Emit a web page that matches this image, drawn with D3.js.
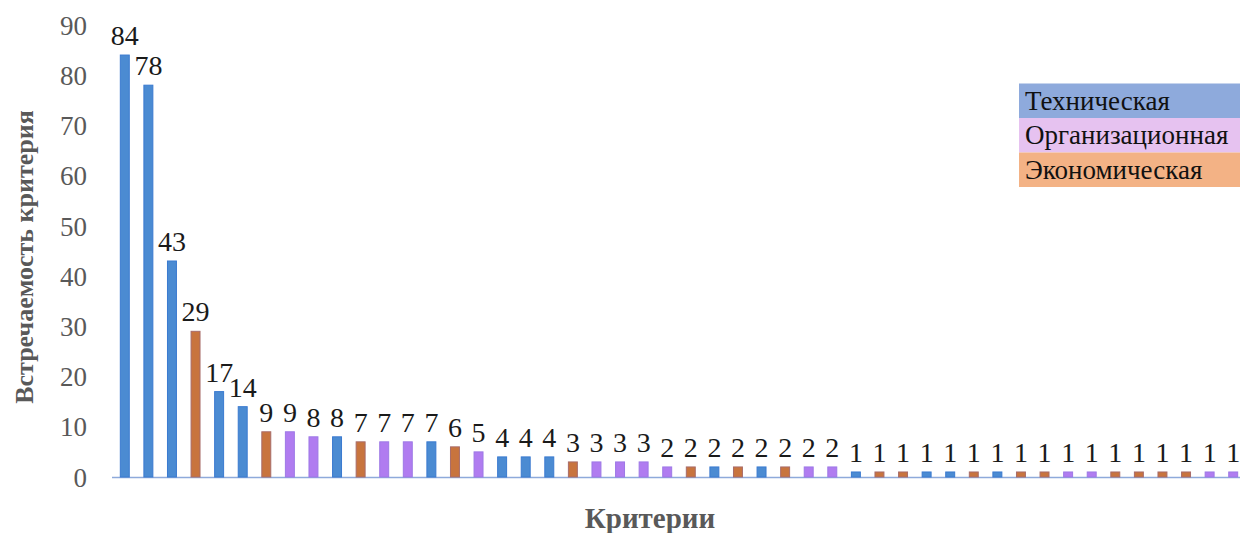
<!DOCTYPE html>
<html><head><meta charset="utf-8">
<script src="https://cdn.jsdelivr.net/npm/d3@7"></script>
<style>body{margin:0;background:#fff}svg{display:block}
svg text{font-family:"Liberation Serif","DejaVu Serif",serif}</style>
</head><body>
<svg id="chart" width="1240" height="533"></svg>
<script>
const values = [84,78,43,29,17,14,9,9,8,8,7,7,7,7,6,5,4,4,4,3,3,3,3,2,2,2,2,2,2,2,2,1,1,1,1,1,1,1,1,1,1,1,1,1,1,1,1,1];
// T = Техническая, O = Организационная, E = Экономическая
const groups = ["T","T","T","E","T","T","E","O","O","T","E","O","O","T","E","O","T","T","T","E","O","O","O","O","E","T","E","T","E","O","O","T","E","E","T","T","E","T","E","E","O","O","E","E","E","E","O","O"];
const legendKeys = ["T","O","E"];
const legendLabels = ["Техническая","Организационная","Экономическая"];
const yTicks = [0,10,20,30,40,50,60,70,80,90];
const yTitle = "Встречаемость критерия";
const xTitle = "Критерии";

const barFill = {T:"#4b8bd2", O:"#b07cf0", E:"#c8743e"};
const barStroke = {T:"#3a7ad0", O:"#9d79e6", E:"#a86c6a"};
const legendFill = {T:"#8eaadc", O:"#e6c2f0", E:"#f3b285"};

const svg = d3.select("#chart");
const idx = values.map((d,i)=>i);
const x = d3.scaleBand().domain(idx).range([113,1245]).paddingInner(0.62).paddingOuter(0.31);
const y = d3.scaleLinear().domain([0,90]).range([477,24.9]);

// baseline
svg.append("line").attr("x1",112).attr("x2",1240).attr("y1",y(0)+0.5).attr("y2",y(0)+0.5)
  .attr("stroke","#8eaadb").attr("stroke-width",1.5);

// y axis
const yAxis = d3.axisLeft(y).tickValues(yTicks).tickSize(0).tickPadding(0);
const gy = svg.append("g").attr("transform","translate(87,0)").call(yAxis);
gy.select(".domain").remove();
gy.attr("font-family",null);
gy.selectAll("text").attr("font-size",27).attr("fill","#595959").attr("dy","0.34em");

// bars
svg.append("g").selectAll("rect").data(idx).join("rect")
  .attr("x",i=>x(i)).attr("width",x.bandwidth())
  .attr("y",i=>y(values[i])).attr("height",i=>y(0)-y(values[i]))
  .attr("fill",i=>barFill[groups[i]]).attr("stroke",i=>barStroke[groups[i]]).attr("stroke-width",1);

// labels
svg.append("g").selectAll("text").data(idx).join("text")
  .attr("x",i=>x(i)+x.bandwidth()/2).attr("y",i=>y(values[i])-10)
  .attr("text-anchor","middle").attr("font-size",28).attr("fill","#1a1a1a")
  .text(i=>values[i]);

// legend
const lg = svg.append("g");
legendKeys.forEach((k,j)=>{
  const top = 83.5 + j*34.5;
  lg.append("rect").attr("x",1019).attr("y",top).attr("width",230).attr("height",34.5).attr("fill",legendFill[k]);
  lg.append("text").attr("x",1025).attr("y",top+26).attr("font-size",27).attr("fill","#111").text(legendLabels[j]);
});

// titles
svg.append("text").attr("transform","translate(33,257) rotate(-90)").attr("text-anchor","middle")
  .attr("font-weight","bold").attr("font-size",26).attr("fill","#595959").text(yTitle);
svg.append("text").attr("x",650).attr("y",528).attr("text-anchor","middle")
  .attr("font-weight","bold").attr("font-size",29).attr("fill","#595959").text(xTitle);
</script>
</body></html>
